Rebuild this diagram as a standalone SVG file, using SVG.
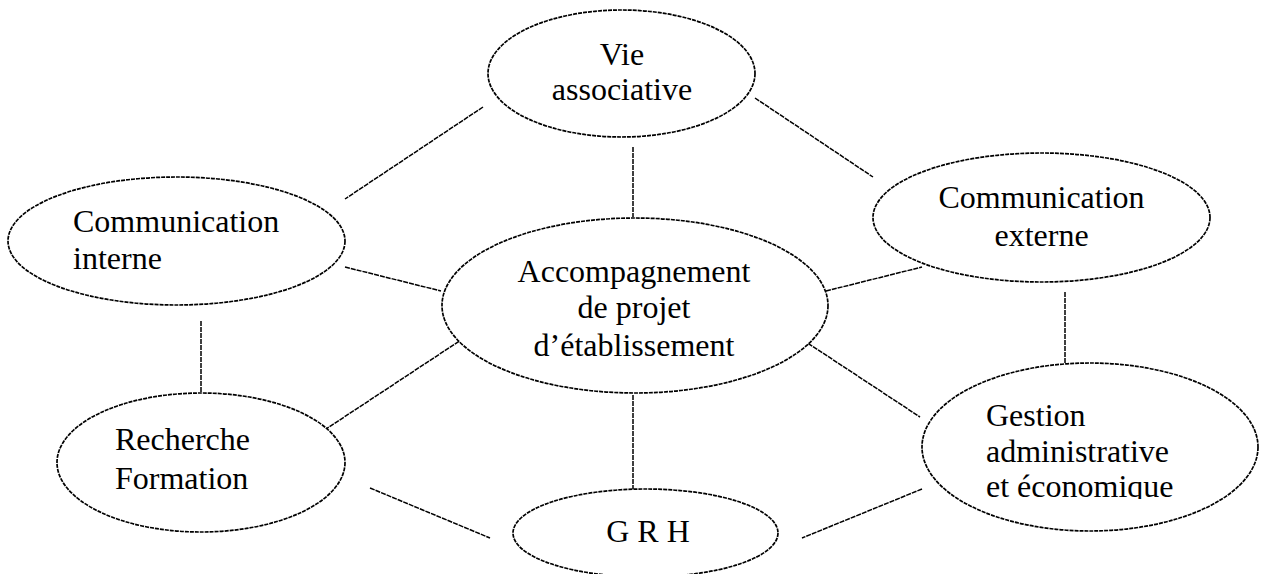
<svg xmlns="http://www.w3.org/2000/svg" width="1265" height="574" viewBox="0 0 1265 574">
<style>
.n ellipse{fill:#fff;stroke:#000;stroke-width:1.7;stroke-dasharray:4 1}
.t{font-family:"Liberation Serif","Times New Roman",serif;font-size:32px;fill:#000}
.c{text-anchor:middle}
#connectors line{stroke:#000;stroke-width:1.5;stroke-dasharray:5 1}
</style>
<defs>
<clipPath id="clipG"><rect x="900" y="340" width="365" height="159"/></clipPath>
</defs>
<rect width="1265" height="574" fill="#fff"/>
<g id="connectors">
<line x1="483" y1="107" x2="345" y2="199"/>
<line x1="755" y1="98" x2="873" y2="177"/>
<line x1="633" y1="147" x2="633" y2="217"/>
<line x1="345" y1="267" x2="441" y2="291"/>
<line x1="201" y1="321" x2="201" y2="393"/>
<line x1="464" y1="338" x2="320" y2="433"/>
<line x1="826" y1="291" x2="922" y2="267"/>
<line x1="1065" y1="292" x2="1065" y2="363"/>
<line x1="803" y1="340" x2="920" y2="417"/>
<line x1="633" y1="395" x2="633" y2="489"/>
<line x1="370" y1="488" x2="490" y2="538"/>
<line x1="922" y1="489" x2="802" y2="538"/>
</g>
<g id="vie" class="n">
<ellipse cx="621.5" cy="73.5" rx="133.5" ry="63.5"/>
<text class="t c" x="622" y="65">Vie</text>
<text class="t c" x="622" y="100">associative</text>
</g>
<g id="comm-interne" class="n">
<ellipse cx="176.5" cy="241" rx="168.5" ry="64"/>
<text class="t" x="73" y="232">Communication</text>
<text class="t" x="73" y="269">interne</text>
</g>
<g id="comm-externe" class="n">
<ellipse cx="1041.5" cy="217.5" rx="168.5" ry="64.5"/>
<text class="t c" x="1041.5" y="208">Communication</text>
<text class="t c" x="1041.5" y="246">externe</text>
</g>
<g id="accompagnement" class="n">
<ellipse cx="635" cy="305.5" rx="193" ry="87.5"/>
<text class="t c" x="634" y="282">Accompagnement</text>
<text class="t c" x="634" y="318">de projet</text>
<text class="t c" x="634" y="356">d’établissement</text>
</g>
<g id="recherche" class="n">
<ellipse cx="201" cy="462.5" rx="144" ry="69.5"/>
<text class="t" x="115" y="450">Recherche</text>
<text class="t" x="115" y="489">Formation</text>
</g>
<g id="gestion" class="n">
<ellipse cx="1090" cy="447" rx="168" ry="84"/>
<g clip-path="url(#clipG)">
<text class="t" x="986" y="426">Gestion</text>
<text class="t" x="986" y="462">administrative</text>
<text class="t" x="986" y="497">et économique</text>
</g>
</g>
<g id="grh" class="n">
<ellipse cx="645.5" cy="533" rx="132.5" ry="44"/>
<text class="t c" x="648" y="542">G R H</text>
</g>
</svg>
